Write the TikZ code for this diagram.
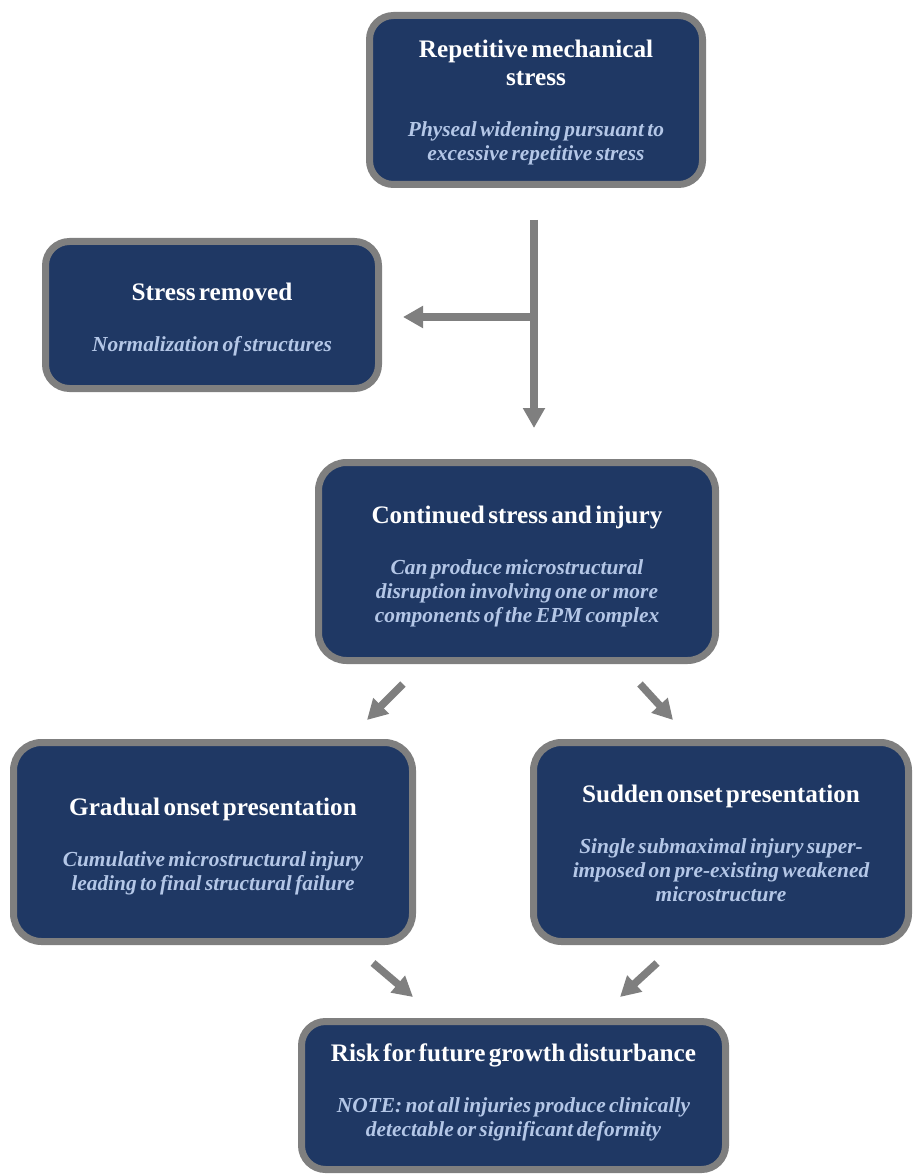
\documentclass[tikz,border=0pt]{standalone}
\usepackage{fontspec}
\setmainfont{Liberation Serif}
\usetikzlibrary{arrows.meta}
\definecolor{navy}{HTML}{1F3864}
\definecolor{bordergray}{HTML}{7F7F7F}
\definecolor{subblue}{HTML}{B4C7E7}
\newcommand{\tfont}{\fontsize{25.2}{28}\selectfont\bfseries\color{white}}
\newcommand{\sfont}{\fontsize{21.4}{24}\selectfont\bfseries\itshape\color{subblue}}
\newcommand{\boxtext}[2]{{\tfont #1\par}\vspace{27pt}{\sfont #2\par}}
\tikzset{
  flowbox/.style={draw=bordergray, line width=7pt, fill=navy, rounded corners=24pt, inner sep=0pt},
  boxlabel/.style={align=center, inner sep=0pt},
  flowarrow/.style={draw=bordergray, line width=7.5pt, -{Triangle[width=21pt,length=20pt]}}
}
\begin{document}
\begin{tikzpicture}[x=1pt,y=-1pt]
\useasboundingbox (0,0) rectangle (912,1174);
% boxes
\node[flowbox, minimum width=333pt, minimum height=169pt] (top) at (536,100) {};
\node[flowbox, minimum width=333pt, minimum height=147pt] (removed) at (212,315) {};
\node[flowbox, rounded corners=28pt, minimum width=397pt, minimum height=198pt] (cont) at (517,561.5) {};
\node[flowbox, rounded corners=28pt, minimum width=399pt, minimum height=199pt] (grad) at (213,842) {};
\node[flowbox, rounded corners=28pt, minimum width=375pt, minimum height=199pt] (sudden) at (721,842) {};
\node[flowbox, minimum width=424pt, minimum height=148pt] (risk) at (513.5,1095.5) {};
% texts
\node[boxlabel, text width=325pt] (toptext) at ([yshift=-3pt]top.center)
  {\boxtext{Repetitive mechanical\\stress}{Physeal widening pursuant to\\excessive repetitive stress}};
\node[boxlabel, text width=325pt] (removedtext) at ([yshift=-5pt]removed.center)
  {\boxtext{Stress removed}{Normalization of structures}};
\node[boxlabel, text width=390pt] (conttext) at ([yshift=-5pt]cont.center)
  {\boxtext{Continued stress and injury}{Can produce microstructural\\disruption involving one or more\\components of the EPM complex}};
\node[boxlabel, text width=390pt] (gradtext) at ([yshift=-5pt]grad.center)
  {\boxtext{Gradual onset presentation}{Cumulative microstructural injury\\leading to final structural failure}};
\node[boxlabel, text width=370pt] (suddentext) at ([yshift=-1pt]sudden.center)
  {\boxtext{Sudden onset presentation}{Single submaximal injury super-\\imposed on pre-existing weakened\\microstructure}};
\node[boxlabel, text width=420pt] (risktext) at ([yshift=3pt]risk.center)
  {\boxtext{Risk for future growth disturbance}{NOTE: not all injuries produce clinically\\detectable or significant deformity}};
% connector coordinates
\coordinate (trunkTop) at (534,220);
\coordinate (trunkTip) at (534,428);
\coordinate (branch) at (534,317);
\coordinate (branchTip) at (403,317);
\coordinate (dlTail) at (403,684);
\coordinate (dlTip) at (367,720);
\coordinate (drTail) at (640,684);
\coordinate (drTip) at (673,720);
\coordinate (blTail) at (373,963);
\coordinate (blTip) at (413,997);
\coordinate (brTail) at (657,963);
\coordinate (brTip) at (620,997);
% connectors
\draw[flowarrow] (trunkTop) -- (trunkTip);
\draw[flowarrow] (branch) -- (branchTip);
\draw[flowarrow] (dlTail) -- (dlTip);
\draw[flowarrow] (drTail) -- (drTip);
\draw[flowarrow] (blTail) -- (blTip);
\draw[flowarrow] (brTail) -- (brTip);
\end{tikzpicture}
\end{document}
